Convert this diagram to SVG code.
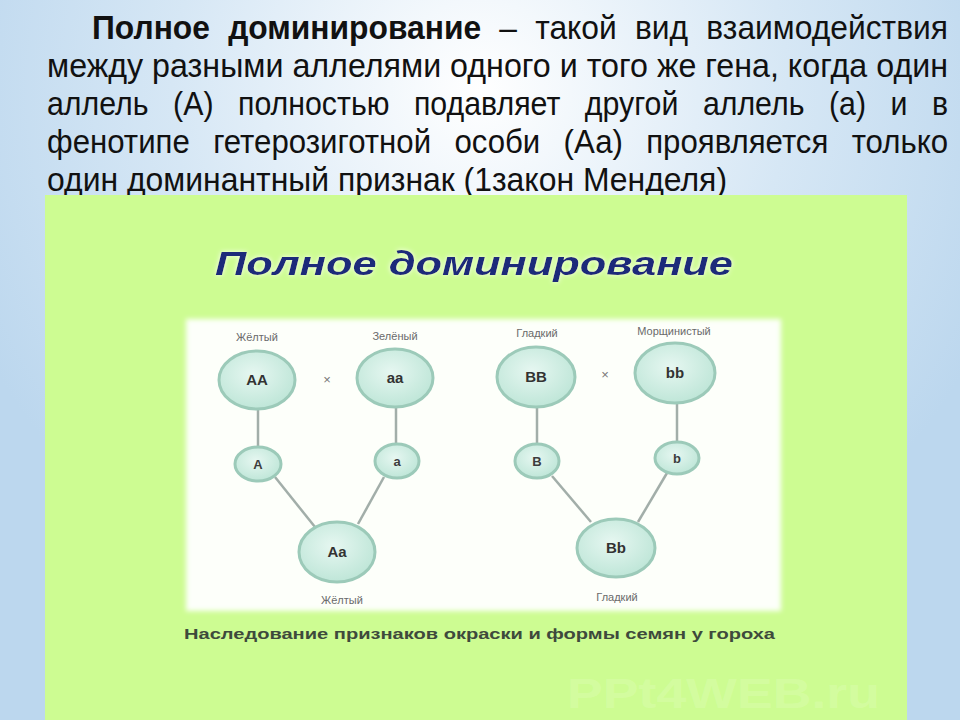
<svg xmlns="http://www.w3.org/2000/svg" width="960" height="720" viewBox="0 0 960 720">
<defs>
<radialGradient id="bg" cx="480" cy="90" r="560" gradientUnits="userSpaceOnUse">
<stop offset="0" stop-color="#ffffff"/>
<stop offset="0.55" stop-color="#d6e7f5"/>
<stop offset="1" stop-color="#bcd7ee"/>
</radialGradient>
<radialGradient id="node" cx="0.45" cy="0.4" r="0.6">
<stop offset="0" stop-color="#e6f7f1"/>
<stop offset="1" stop-color="#bfe6d8"/>
</radialGradient>
<filter id="soft" x="-5%" y="-5%" width="110%" height="110%"><feGaussianBlur stdDeviation="2.5"/></filter>
<filter id="glow" x="-5%" y="-20%" width="110%" height="140%">
<feGaussianBlur in="SourceAlpha" stdDeviation="2.5" result="b"/>
<feFlood flood-color="#ffffff" flood-opacity="0.9"/>
<feComposite in2="b" operator="in" result="g"/>
<feMerge><feMergeNode in="g"/><feMergeNode in="SourceGraphic"/></feMerge>
</filter>
</defs>
<style>
.h{font-family:"Liberation Sans",Arial,sans-serif;font-size:34px;fill:#111}
.b{font-weight:bold}
.big{fill:url(#node);stroke:#9ccab9;stroke-width:3}
.nt{font-family:"Liberation Sans",Arial,sans-serif;font-weight:bold;font-size:15px;fill:#333;text-anchor:middle}
.st{font-family:"Liberation Sans",Arial,sans-serif;font-weight:bold;font-size:13px;fill:#3d3d3d;text-anchor:middle}
.lb{font-family:"Liberation Sans",Arial,sans-serif;font-size:11px;fill:#6a6a6a;text-anchor:middle}
.x{font-family:"Liberation Sans",Arial,sans-serif;font-size:13px;fill:#777;text-anchor:middle}
.ln{stroke:#a2aea9;stroke-width:2.5;fill:none}
</style>
<rect width="960" height="720" fill="url(#bg)"/>
<g id="heading">
<text class="h" x="92" y="39" textLength="856" lengthAdjust="spacingAndGlyphs" word-spacing="10"><tspan class="b">Полное доминирование</tspan> – такой вид взаимодействия</text>
<text class="h" x="47" y="77" textLength="901" lengthAdjust="spacingAndGlyphs">между разными аллелями одного и того же гена, когда один</text>
<text class="h" x="47" y="115" textLength="901" lengthAdjust="spacingAndGlyphs" word-spacing="18">аллель (А) полностью подавляет другой аллель (а) и в</text>
<text class="h" x="47" y="153" textLength="901" lengthAdjust="spacingAndGlyphs" word-spacing="16">фенотипе гетерозиготной особи (Аа) проявляется только</text>
<text class="h" x="47" y="191" textLength="680" lengthAdjust="spacingAndGlyphs">один доминантный признак (1закон Менделя)</text>
</g>
<rect x="45" y="195" width="862" height="525" fill="#cdfc92"/>
<rect x="186" y="319" width="595" height="292" fill="#fdfffa" filter="url(#soft)"/>
<text x="474" y="275" font-family="'Liberation Sans',Arial,sans-serif" font-weight="bold" font-style="italic" font-size="34" fill="#1c2b7a" textLength="518" lengthAdjust="spacingAndGlyphs" text-anchor="middle" filter="url(#glow)">Полное доминирование</text>
<g id="connectors">
<line class="ln" x1="258" y1="408" x2="258" y2="447"/>
<line class="ln" x1="396" y1="406" x2="396" y2="445"/>
<line class="ln" x1="275" y1="477" x2="315" y2="527"/>
<line class="ln" x1="384" y1="477" x2="358" y2="524"/>
<line class="ln" x1="537" y1="407" x2="537" y2="444"/>
<line class="ln" x1="677" y1="403" x2="677" y2="442"/>
<line class="ln" x1="552" y1="476" x2="591" y2="522"/>
<line class="ln" x1="667" y1="473" x2="638" y2="522"/>
</g>
<g id="AA"><text class="lb" x="257" y="341">Жёлтый</text><ellipse class="big" cx="257" cy="380" rx="38" ry="29"/><text class="nt" x="257" y="385">AA</text></g>
<text class="x" x="327" y="384">×</text>
<g id="aa"><text class="lb" x="395" y="340">Зелёный</text><ellipse class="big" cx="395" cy="378" rx="38" ry="29"/><text class="nt" x="395" y="383">aa</text></g>
<g id="BB"><text class="lb" x="537" y="337">Гладкий</text><ellipse class="big" cx="536" cy="377" rx="39" ry="30"/><text class="nt" x="536" y="382">BB</text></g>
<text class="x" x="605" y="379">×</text>
<g id="bb"><text class="lb" x="674" y="335">Морщинистый</text><ellipse class="big" cx="675" cy="373" rx="40" ry="30"/><text class="nt" x="675" y="378">bb</text></g>
<g id="A"><ellipse class="big" cx="258" cy="464" rx="23" ry="17"/><text class="st" x="258" y="469">A</text></g>
<g id="a"><ellipse class="big" cx="397" cy="461" rx="22" ry="17"/><text class="st" x="397" y="466">a</text></g>
<g id="B"><ellipse class="big" cx="537" cy="461" rx="22" ry="17"/><text class="st" x="537" y="466">B</text></g>
<g id="b"><ellipse class="big" cx="677" cy="458" rx="22" ry="16"/><text class="st" x="677" y="463">b</text></g>
<g id="Aa"><ellipse class="big" cx="337" cy="552" rx="38" ry="30"/><text class="nt" x="337" y="557">Aa</text><text class="lb" x="342" y="604">Жёлтый</text></g>
<g id="Bb"><ellipse class="big" cx="616" cy="548" rx="39" ry="29"/><text class="nt" x="616" y="553">Bb</text><text class="lb" x="617" y="601">Гладкий</text></g>
<text x="184" y="639" font-family="'Liberation Sans',Arial,sans-serif" font-weight="bold" font-size="14" fill="#3e4a3c" textLength="591" lengthAdjust="spacingAndGlyphs">Наследование признаков окраски и формы семян у гороха</text>
<text x="567" y="708" font-family="'Liberation Sans',Arial,sans-serif" font-weight="bold" font-size="42" fill="#ffffff" fill-opacity="0.15" textLength="313" lengthAdjust="spacingAndGlyphs">PPt4WEB.ru</text>
</svg>
